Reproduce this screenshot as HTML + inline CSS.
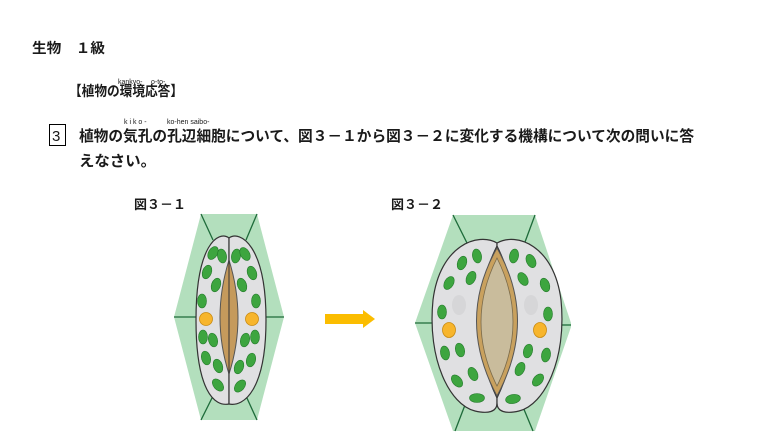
<!DOCTYPE html>
<html><head><meta charset="utf-8"><style>
html,body{margin:0;padding:0;background:#fff;width:763px;height:443px;overflow:hidden}
svg{display:block}
text{font-family:"Liberation Sans","Noto Sans CJK JP",sans-serif;fill:#1a1a1a}
</style></head><body>
<svg width="763" height="443" viewBox="0 0 763 443" xmlns="http://www.w3.org/2000/svg">
<text x="32" y="53" font-size="14" font-weight="bold" textLength="73" lengthAdjust="spacingAndGlyphs">生物　１級</text>
<text x="118" y="84" font-size="7">kankyo-</text>
<text x="151" y="84" font-size="7">o-to-</text>
<text x="69" y="96" font-size="14" font-weight="bold" textLength="114" lengthAdjust="spacingAndGlyphs">【植物の環境応答】</text>
<rect x="49.5" y="124.5" width="16" height="21" fill="none" stroke="#000" stroke-width="1"/>
<text x="52" y="141" font-size="15">3</text>
<text x="124" y="124" font-size="7">k i k o -</text>
<text x="167" y="124" font-size="7">ko-hen saibo-</text>
<text x="79" y="141" font-size="15" font-weight="bold" textLength="615" lengthAdjust="spacingAndGlyphs">植物の気孔の孔辺細胞について、図３－１から図３－２に変化する機構について次の問いに答</text>
<text x="79" y="166" font-size="15" font-weight="bold" textLength="77" lengthAdjust="spacingAndGlyphs">えなさい。</text>
<text x="134" y="209" font-size="13" font-weight="bold" textLength="52" lengthAdjust="spacingAndGlyphs">図３－１</text>
<text x="391" y="209" font-size="13" font-weight="bold" textLength="52" lengthAdjust="spacingAndGlyphs">図３－２</text>

<!-- Figure 1 -->
<polygon points="201,214 257,214 284,317 257,420 201,420 174,317" fill="#b3dfbd"/>
<g stroke="#1e6b3a" stroke-width="1.3">
<line x1="201" y1="214" x2="213" y2="240"/><line x1="257" y1="214" x2="246" y2="240"/>
<line x1="174" y1="317" x2="196" y2="317"/><line x1="263" y1="317" x2="284" y2="317"/>
<line x1="201" y1="420" x2="213" y2="396"/><line x1="257" y1="420" x2="246" y2="396"/>
</g>
<path d="M229,238 C218,230 196,245 196,320 C196,390 214,407 229,404 Z" fill="#e0e0e2" stroke="#333" stroke-width="1.2"/>
<path d="M229,238 C240,230 266,245 266,320 C266,390 244,407 229,404 Z" fill="#e0e0e2" stroke="#333" stroke-width="1.2"/>
<path d="M229,260 Q211,318 229,374 Q247,318 229,260 Z" fill="#c59a5c" stroke="#555" stroke-width="1"/>
<line x1="229" y1="238" x2="229" y2="404" stroke="#333" stroke-width="1"/>
<g fill="#3da53f" stroke="#237a2a" stroke-width="0.6">
<ellipse cx="213" cy="253" rx="4.5" ry="7" transform="rotate(30 213 253)"/>
<ellipse cx="222" cy="256" rx="4.5" ry="7" transform="rotate(-10 222 256)"/>
<ellipse cx="207" cy="272" rx="4.5" ry="7" transform="rotate(20 207 272)"/>
<ellipse cx="216" cy="285" rx="4.5" ry="7" transform="rotate(20 216 285)"/>
<ellipse cx="202" cy="301" rx="4.5" ry="7"/>
<ellipse cx="203" cy="337" rx="4.5" ry="7"/>
<ellipse cx="213" cy="340" rx="4.5" ry="7" transform="rotate(-15 213 340)"/>
<ellipse cx="206" cy="358" rx="4.5" ry="7" transform="rotate(-15 206 358)"/>
<ellipse cx="218" cy="366" rx="4.5" ry="7" transform="rotate(-20 218 366)"/>
<ellipse cx="218" cy="385" rx="4.5" ry="7" transform="rotate(-40 218 385)"/>
<ellipse cx="236" cy="256" rx="4.5" ry="7" transform="rotate(10 236 256)"/>
<ellipse cx="245" cy="254" rx="4.5" ry="7" transform="rotate(-30 245 254)"/>
<ellipse cx="252" cy="273" rx="4.5" ry="7" transform="rotate(-20 252 273)"/>
<ellipse cx="242" cy="285" rx="4.5" ry="7" transform="rotate(-20 242 285)"/>
<ellipse cx="256" cy="301" rx="4.5" ry="7"/>
<ellipse cx="255" cy="337" rx="4.5" ry="7"/>
<ellipse cx="245" cy="340" rx="4.5" ry="7" transform="rotate(15 245 340)"/>
<ellipse cx="251" cy="360" rx="4.5" ry="7" transform="rotate(15 251 360)"/>
<ellipse cx="239" cy="367" rx="4.5" ry="7" transform="rotate(20 239 367)"/>
<ellipse cx="240" cy="386" rx="4.5" ry="7" transform="rotate(40 240 386)"/>
</g>
<circle cx="206" cy="319" r="6.5" fill="#f7b52c" stroke="#c98a10" stroke-width="0.8"/>
<circle cx="252" cy="319" r="6.5" fill="#f7b52c" stroke="#c98a10" stroke-width="0.8"/>

<!-- Arrow -->
<polygon points="325,314 363,314 363,310 375,319 363,328 363,324 325,324" fill="#fbbd00"/>

<!-- Figure 2 -->
<polygon points="453,215 535,215 571,323 571,327 535,431 453,431 415,323" fill="#b3dfbd"/>
<g stroke="#1e6b3a" stroke-width="1.3">
<line x1="453" y1="215" x2="467" y2="243"/><line x1="535" y1="215" x2="525" y2="242"/>
<line x1="415" y1="323" x2="433" y2="323"/><line x1="560" y1="325" x2="571" y2="325"/>
<line x1="455" y1="431" x2="465" y2="405"/><line x1="533" y1="431" x2="523" y2="407"/>
</g>
<path d="M497,243 C478,232 440,245 433,300 C427,360 450,405 475,411 C488,414 497,412 497,403 L497,398 Q460,320 497,246 Z" fill="#e0e0e2" stroke="#333" stroke-width="1.2"/>
<path d="M497,243 C516,232 554,245 561,300 C567,360 544,405 519,411 C506,414 497,412 497,403 L497,398 Q534,320 497,246 Z" fill="#e0e0e2" stroke="#333" stroke-width="1.2"/>
<ellipse cx="459" cy="305" rx="7" ry="10" fill="#d6d6d8"/>
<ellipse cx="531" cy="305" rx="7" ry="10" fill="#d6d6d8"/>
<path d="M497,248 Q456,320 497,396 Q538,320 497,248 Z" fill="#c9a15e" stroke="#555" stroke-width="1"/>
<path d="M497,258 Q465,322 497,386 Q529,322 497,258 Z" fill="#c9bc9c" stroke="#7a6a4a" stroke-width="0.8"/>
<g fill="#3da53f" stroke="#237a2a" stroke-width="0.6">
<ellipse cx="462" cy="263" rx="4.5" ry="7" transform="rotate(20 462 263)"/>
<ellipse cx="477" cy="256" rx="4.5" ry="7" transform="rotate(-10 477 256)"/>
<ellipse cx="449" cy="283" rx="4.5" ry="7" transform="rotate(30 449 283)"/>
<ellipse cx="471" cy="278" rx="4.5" ry="7" transform="rotate(25 471 278)"/>
<ellipse cx="442" cy="312" rx="4.5" ry="7"/>
<ellipse cx="445" cy="353" rx="4.5" ry="7" transform="rotate(-10 445 353)"/>
<ellipse cx="460" cy="350" rx="4.5" ry="7" transform="rotate(-15 460 350)"/>
<ellipse cx="457" cy="381" rx="4.5" ry="7" transform="rotate(-40 457 381)"/>
<ellipse cx="473" cy="374" rx="4.5" ry="7" transform="rotate(-25 473 374)"/>
<ellipse cx="477" cy="398" rx="7.5" ry="4.5"/>
<ellipse cx="514" cy="256" rx="4.5" ry="7" transform="rotate(10 514 256)"/>
<ellipse cx="531" cy="261" rx="4.5" ry="7" transform="rotate(-25 531 261)"/>
<ellipse cx="545" cy="285" rx="4.5" ry="7" transform="rotate(-20 545 285)"/>
<ellipse cx="523" cy="279" rx="4.5" ry="7" transform="rotate(-30 523 279)"/>
<ellipse cx="548" cy="314" rx="4.5" ry="7"/>
<ellipse cx="546" cy="355" rx="4.5" ry="7" transform="rotate(10 546 355)"/>
<ellipse cx="528" cy="351" rx="4.5" ry="7" transform="rotate(15 528 351)"/>
<ellipse cx="538" cy="380" rx="4.5" ry="7" transform="rotate(40 538 380)"/>
<ellipse cx="520" cy="369" rx="4.5" ry="7" transform="rotate(25 520 369)"/>
<ellipse cx="513" cy="399" rx="7.5" ry="4.5" transform="rotate(-10 513 399)"/>
</g>
<ellipse cx="449" cy="330" rx="6.5" ry="7.5" fill="#f7b52c" stroke="#c98a10" stroke-width="0.8"/>
<ellipse cx="540" cy="330" rx="6.5" ry="7.5" fill="#f7b52c" stroke="#c98a10" stroke-width="0.8"/>
</svg>
</body></html>
